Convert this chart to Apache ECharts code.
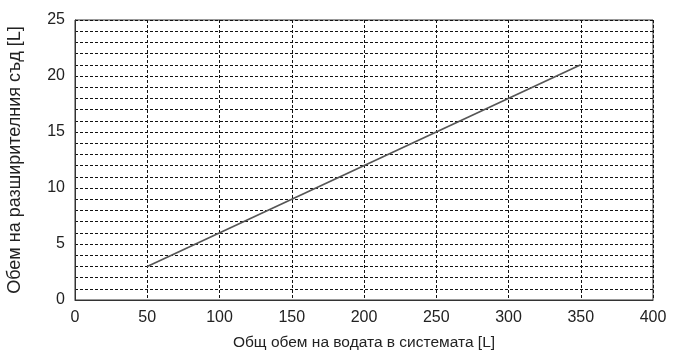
<!DOCTYPE html>
<html>
<head>
<meta charset="utf-8">
<script src="https://cdn.jsdelivr.net/npm/echarts@6/dist/echarts.min.js"></script>
<style>html,body{margin:0;padding:0;background:#fff;}#c{width:675px;height:356px;}</style>
</head>
<body>
<div id="c"></div>
<script>
const xName = 'Общ обем на водата в системата [L]';
const yName = 'Обем на разширителния съд [L]';
const xValues = [50, 350];
const yValues = [3, 21];
const xTicks = [0, 50, 100, 150, 200, 250, 300, 350, 400];
const yTicks = [0, 5, 10, 15, 20, 25];

const chart = echarts.init(document.getElementById('c'), null, {renderer: 'canvas'});
const font = 'Liberation Sans, Arial, sans-serif';
chart.setOption({
  animation: false,
  backgroundColor: '#fff',
  grid: {left: 75, right: 22, top: 20, bottom: 56, show: true, borderColor: '#333', borderWidth: 1,
    backgroundColor: 'transparent', containLabel: false, outerBoundsMode: 'none'},
  xAxis: {
    type: 'value', min: 0, max: 400, interval: 50,
    name: xName, nameLocation: 'middle', nameGap: 35,
    nameTextStyle: {fontFamily: font, fontSize: 15.5, color: '#222'},
    axisLine: {show: true, lineStyle: {color: '#333', width: 1}},
    axisTick: {show: false},
    axisLabel: {fontFamily: font, fontSize: 16, color: '#222', margin: 10,
      formatter: v => xTicks.includes(v) ? String(v) : ''},
    splitLine: {show: true, lineStyle: {color: '#111', width: 1, type: [3, 2]}}
  },
  yAxis: {
    type: 'value', min: 0, max: 25, interval: 1,
    name: yName, nameLocation: 'middle', nameGap: 51,
    nameTextStyle: {fontFamily: font, fontSize: 18, color: '#222'},
    axisLine: {show: true, lineStyle: {color: '#333', width: 1}},
    axisTick: {show: false},
    axisLabel: {fontFamily: font, fontSize: 16, color: '#222', margin: 10,
      formatter: v => yTicks.includes(v) ? String(v) : ''},
    splitLine: {show: true, lineStyle: {color: '#111', width: 1, type: [3, 2]}}
  },
  series: [{
    type: 'line',
    data: xValues.map((x, i) => [x, yValues[i]]),
    showSymbol: false,
    symbol: 'none',
    lineStyle: {color: '#555', width: 1.7},
    z: 5
  }]
});
</script>
</body>
</html>
